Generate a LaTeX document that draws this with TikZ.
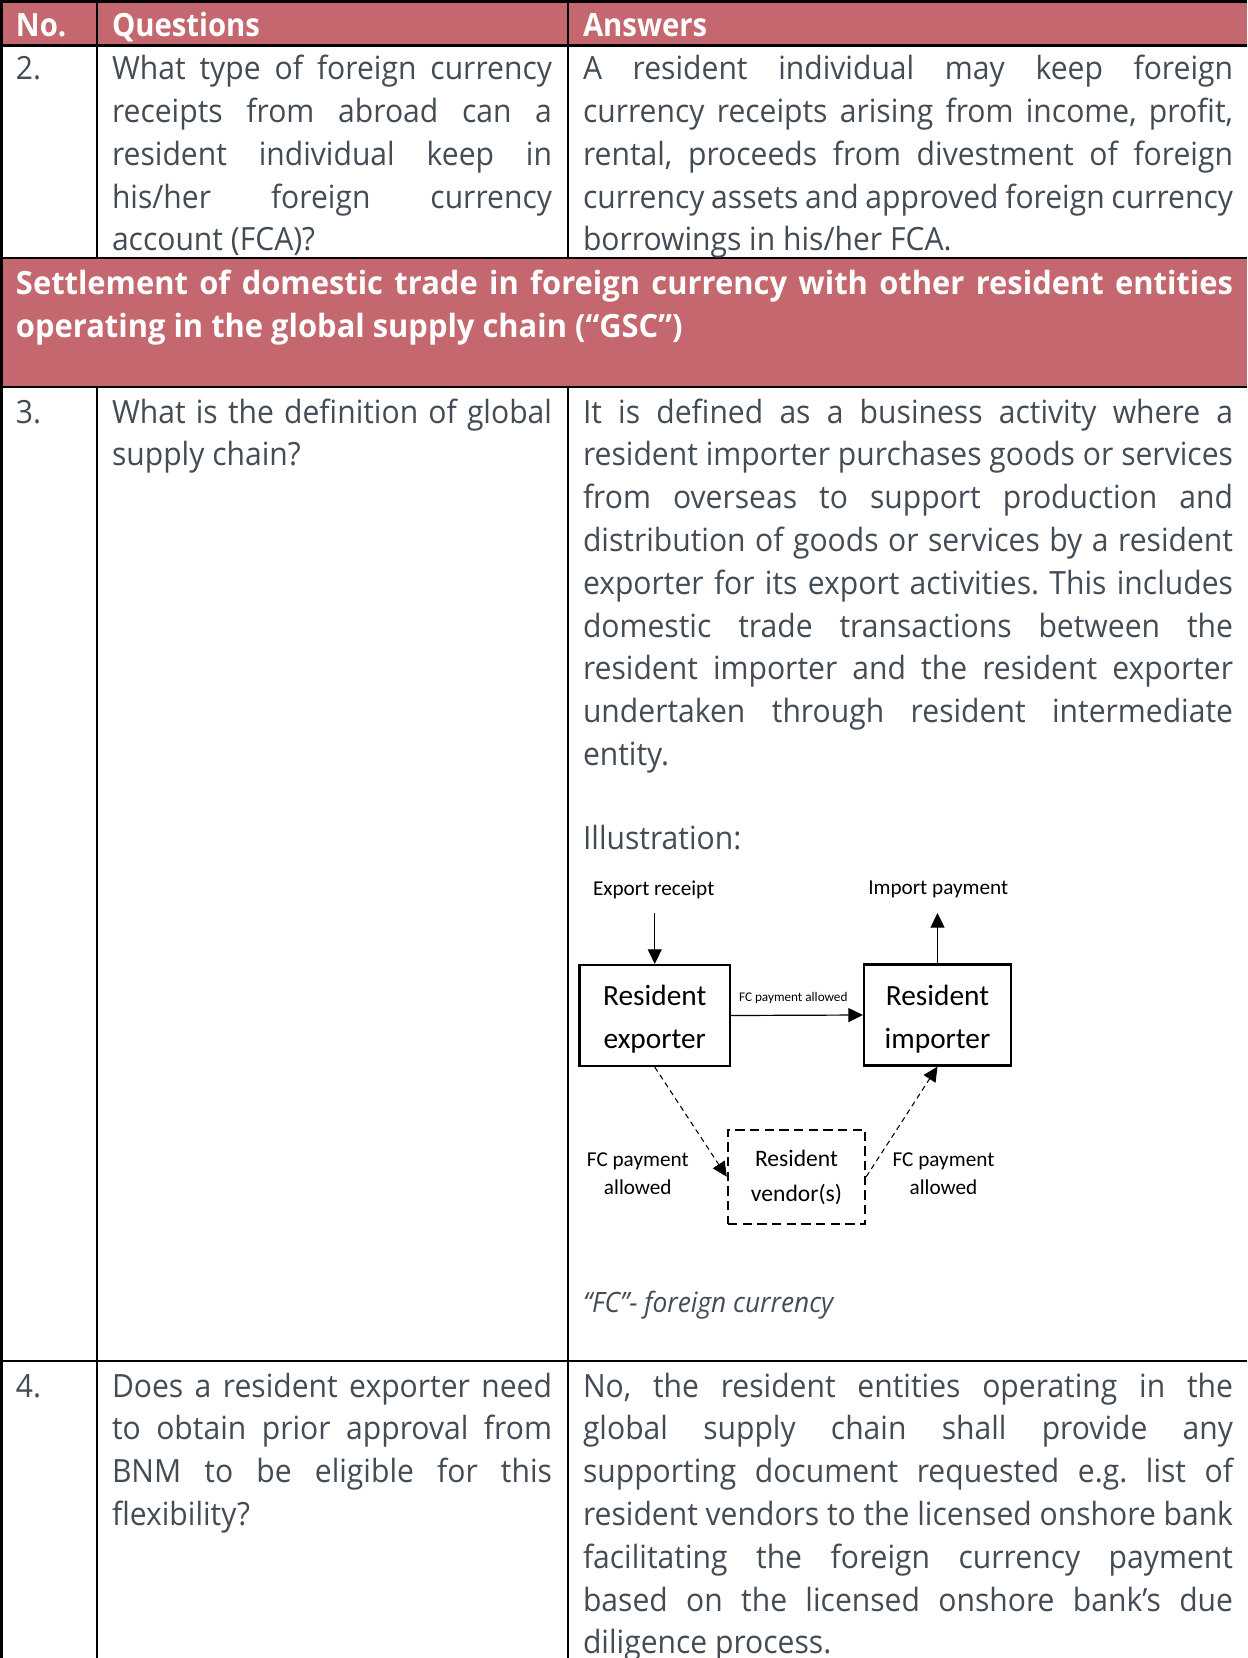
\documentclass[tikz,border=0pt]{standalone}
\usepackage{fontspec}
\setmainfont{Open Sans}[FakeStretch=0.94]
\newfontfamily\hdfont{Open Sans}[FakeStretch=0.915]
\newfontfamily\bnfont{Open Sans}[FakeStretch=0.965]
\newfontfamily\calfont{Carlito}
\usetikzlibrary{arrows.meta}
\definecolor{hdr}{HTML}{C4676E}
\definecolor{txt}{HTML}{434B55}
\frenchspacing
\newcommand{\QJ}[1]{\makebox[330pt][s]{#1}}
\newcommand{\AJ}[1]{\makebox[487.5pt][s]{#1}}
\newcommand{\BJ}[1]{\makebox[912.75pt][s]{#1}}
\begin{document}
\begin{tikzpicture}[x=0.75pt,y=-0.75pt,
  tl/.style={anchor=base west,inner sep=0pt,outer sep=0pt,text=txt,font=\fontsize{24}{29}\selectfont},
  hl/.style={anchor=base west,inner sep=0pt,outer sep=0pt,text=white,font=\hdfont\bfseries\fontsize{24}{29}\selectfont},
  bl/.style={anchor=base west,inner sep=0pt,outer sep=0pt,text=white,font=\bnfont\bfseries\fontsize{24}{29}\selectfont},
  grid/.style={line width=1.9pt,black},
  bx/.style={draw=black,line width=1.6pt,inner sep=0pt},
  bxt/.style={inner sep=0pt,align=center,text=black,font=\calfont\fontsize{22}{32.5}\selectfont},
  lab/.style={inner sep=0pt,align=center,text=black,font=\calfont\fontsize{15.9}{20.7}\selectfont},
  arr/.style={line width=0.9pt,-{Triangle[length=11pt,width=10.5pt]}},
  darr/.style={line width=0.8pt,dash pattern=on 4pt off 3pt,-{Triangle[length=11pt,width=10.5pt]}}
]
\useasboundingbox (0,0) rectangle (1247,1658);
% fills
\fill[hdr] (0,1.5) rectangle (1247,45.5);
\fill[hdr] (0,258) rectangle (1247,387);
% grid
\draw[grid] (0,1.5) -- (1247,1.5);
\draw[grid] (0,45.5) -- (1247,45.5);
\draw[grid] (0,258) -- (1247,258);
\draw[grid] (0,387) -- (1247,387);
\draw[grid] (0,1361) -- (1247,1361);
\draw[grid] (1.5,0) -- (1.5,1658);
\draw[grid] (97,1.5) -- (97,258);
\draw[grid] (568,1.5) -- (568,258);
\draw[grid] (97,387) -- (97,1658);
\draw[grid] (568,387) -- (568,1658);
% header
\node[hl] (hno) at (16,36.5) {No.};
\node[hl] (hq) at (112,36.5) {Questions};
\node[hl] (ha) at (583,36.5) {Answers};
% row 2
\node[tl] (n2) at (16,80) {2.};
\node[tl] (q2a) at (112,80) {\QJ{What type of foreign currency}};
\node[tl] (q2b) at (112,122.7) {\QJ{receipts from abroad can a}};
\node[tl] (q2c) at (112,165.4) {\QJ{resident individual keep in}};
\node[tl] (q2d) at (112,208.1) {\QJ{his/her foreign currency}};
\node[tl] (q2e) at (112,250.8) {account (FCA)?};
\node[tl] (a2a) at (583,80) {\AJ{A resident individual may keep foreign}};
\node[tl] (a2b) at (583,122.7) {\AJ{currency receipts arising from income, profit,}};
\node[tl] (a2c) at (583,165.4) {\AJ{rental, proceeds from divestment of foreign}};
\node[tl] (a2d) at (583,208.1) {\AJ{currency assets and approved foreign currency}};
\node[tl] (a2e) at (583,250.8) {borrowings in his/her FCA.};
% banner
\node[bl] (ba) at (16,295) {\BJ{Settlement of domestic trade in foreign currency with other resident entities}};
\node[bl] (bb) at (16,338) {operating in the global supply chain (“GSC”)};
% row 3
\node[tl] (n3) at (16,423) {3.};
\node[tl] (q3a) at (112,423) {\QJ{What is the definition of global}};
\node[tl] (q3b) at (112,465.8) {supply chain?};
\node[tl] (a3a) at (583,423) {\AJ{It is defined as a business activity where a}};
\node[tl] (a3b) at (583,465.8) {\AJ{resident importer purchases goods or services}};
\node[tl] (a3c) at (583,508.6) {\AJ{from overseas to support production and}};
\node[tl] (a3d) at (583,551.4) {\AJ{distribution of goods or services by a resident}};
\node[tl] (a3e) at (583,594.2) {\AJ{exporter for its export activities. This includes}};
\node[tl] (a3f) at (583,637) {\AJ{domestic trade transactions between the}};
\node[tl] (a3g) at (583,679.8) {\AJ{resident importer and the resident exporter}};
\node[tl] (a3h) at (583,722.6) {\AJ{undertaken through resident intermediate}};
\node[tl] (a3i) at (583,765.4) {entity.};
\node[tl] (ill) at (583,849.5) {Illustration:};
% diagram
\node[bx,minimum width=112.9pt,minimum height=75.75pt] (exp) at (654.75,1015.5) {};
\node[bx,minimum width=110.25pt,minimum height=75.75pt] (imp) at (937.5,1015) {};
\node[bx,dash pattern=on 7pt off 4pt,minimum width=103pt,minimum height=70.5pt] (ven) at (796.5,1176.7) {};
\node[bxt] (expt) at (654.75,1019.5) {Resident\\exporter};
\node[bxt] (impt) at (937.5,1019) {Resident\\importer};
\node[bxt,font=\calfont\fontsize{17.7}{26}\selectfont] (vent) at (796.5,1177.2) {Resident\\vendor(s)};
\node[lab] (er) at (653.7,890) {Export receipt};
\node[lab] (ip) at (938.2,889.4) {Import payment};
\coordinate (erend) at (654.75,913);
\coordinate (ipend) at (937.5,913);
\draw[arr] (erend) -- (exp.north);
\draw[arr] (imp.north) -- (ipend);
\draw[arr] (exp.east) -- (imp.west);
\node[lab,font=\calfont\fontsize{9.9}{12}\selectfont] (fcm) at (793.3,998.4) {FC payment allowed};
\draw[darr] (exp.south) -- (ven.west);
\draw[darr] (ven.east) -- (imp.south);
\node[lab] (fcl) at (637.8,1173.5) {FC payment\\allowed};
\node[lab] (fcr) at (943.5,1173.5) {FC payment\\allowed};
\node[tl,font=\itshape\fontsize{21}{25}\selectfont] (cap) at (583,1312) {“FC”- foreign currency};
% row 4
\node[tl] (n4) at (16,1397) {4.};
\node[tl] (q4a) at (112,1397) {\QJ{Does a resident exporter need}};
\node[tl] (q4b) at (112,1439.8) {\QJ{to obtain prior approval from}};
\node[tl] (q4c) at (112,1482.6) {\QJ{BNM to be eligible for this}};
\node[tl] (q4d) at (112,1525.4) {flexibility?};
\node[tl] (a4a) at (583,1397) {\AJ{No, the resident entities operating in the}};
\node[tl] (a4b) at (583,1439.8) {\AJ{global supply chain shall provide any}};
\node[tl] (a4c) at (583,1482.6) {\AJ{supporting document requested e.g. list of}};
\node[tl] (a4d) at (583,1525.4) {\AJ{resident vendors to the licensed onshore bank}};
\node[tl] (a4e) at (583,1568.2) {\AJ{facilitating the foreign currency payment}};
\node[tl] (a4f) at (583,1611) {\AJ{based on the licensed onshore bank’s due}};
\node[tl] (a4g) at (583,1653.8) {diligence process.};
\end{tikzpicture}
\end{document}
